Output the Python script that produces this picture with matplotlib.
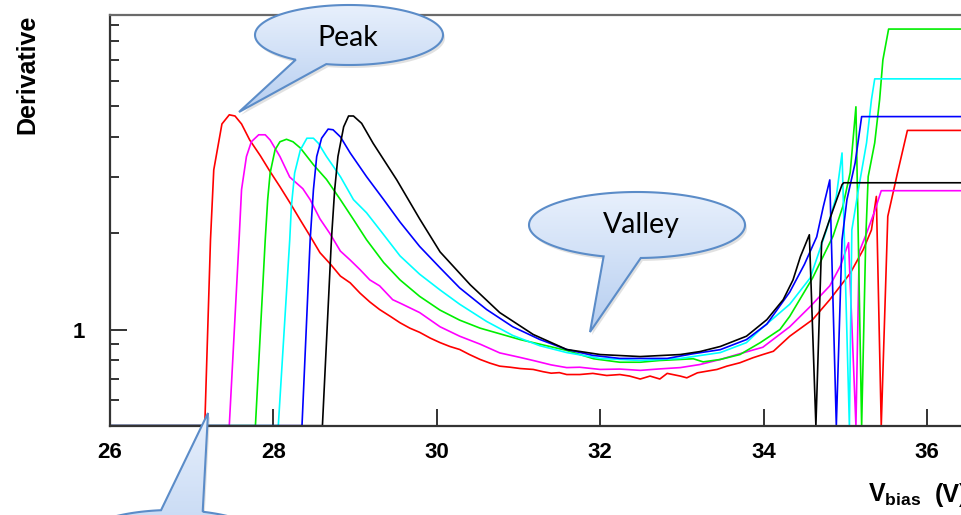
import numpy as np
import matplotlib
matplotlib.use('Agg')
import matplotlib.pyplot as plt
from matplotlib.patches import Polygon
from matplotlib.ticker import FixedLocator, NullFormatter
from matplotlib.colors import LinearSegmentedColormap

plt.rcParams['font.family'] = 'Liberation Sans'
plt.rcParams['mathtext.fontset'] = 'custom'
plt.rcParams['mathtext.bf'] = 'Liberation Sans:bold'
plt.rcParams['mathtext.rm'] = 'Liberation Sans'

# derivative curves, (V_bias, derivative); 0 = empty bin
red_pts = [(26.0, 0), (27.16, 0), (27.23, 1.91), (27.27, 3.16), (27.37, 4.4), (27.46, 4.70), (27.53, 4.66),
           (27.61, 4.4), (27.71, 3.92), (27.84, 3.5), (27.96, 3.12), (28.08, 2.8), (28.20, 2.5), (28.33, 2.2),
           (28.45, 1.96), (28.57, 1.74), (28.70, 1.60), (28.82, 1.47), (28.94, 1.40), (29.06, 1.30),
           (29.18, 1.22), (29.30, 1.155), (29.43, 1.10), (29.55, 1.05), (29.67, 1.01), (29.79, 0.98),
           (29.92, 0.94), (30.04, 0.91), (30.16, 0.885), (30.28, 0.866), (30.40, 0.835), (30.53, 0.806),
           (30.65, 0.785), (30.77, 0.768), (30.90, 0.762), (31.02, 0.755), (31.18, 0.75), (31.30, 0.738),
           (31.40, 0.73), (31.50, 0.733), (31.59, 0.723), (31.75, 0.723), (31.91, 0.729), (32.08, 0.718),
           (32.24, 0.723), (32.36, 0.715), (32.49, 0.70), (32.61, 0.715), (32.73, 0.70), (32.82, 0.729),
           (32.98, 0.715), (33.06, 0.706), (33.19, 0.732), (33.31, 0.741), (33.43, 0.75), (33.55, 0.768),
           (33.71, 0.787), (33.87, 0.816), (33.99, 0.835), (34.12, 0.855), (34.32, 0.953), (34.60, 1.074),
           (34.81, 1.24), (35.06, 1.50), (35.22, 1.78), (35.32, 2.05), (35.38, 2.61), (35.44, 0),
           (35.52, 2.26), (35.64, 3.10), (35.76, 4.20), (37.0, 4.20)]

magenta_pts = [(26.0, 0), (27.46, 0), (27.58, 1.91), (27.61, 2.74), (27.67, 3.48), (27.73, 3.87), (27.82, 4.07),
               (27.90, 4.07), (27.96, 3.92), (28.08, 3.48), (28.20, 3.0), (28.36, 2.76), (28.45, 2.55),
               (28.57, 2.22), (28.69, 2.0), (28.82, 1.76), (28.94, 1.65), (29.06, 1.54), (29.18, 1.43),
               (29.30, 1.37), (29.46, 1.24), (29.55, 1.21), (29.79, 1.13), (30.04, 1.02), (30.28, 0.953),
               (30.53, 0.90), (30.77, 0.845), (31.0, 0.82), (31.18, 0.80), (31.40, 0.775), (31.59, 0.76),
               (31.75, 0.762), (32.0, 0.75), (32.24, 0.752), (32.49, 0.745), (32.73, 0.753), (32.98, 0.76),
               (33.22, 0.777), (33.47, 0.806), (33.71, 0.84), (33.99, 0.88), (34.32, 1.02), (34.57, 1.18),
               (34.81, 1.37), (34.94, 1.58), (35.04, 1.87), (35.13, 0), (35.17, 1.75), (35.26, 2.0),
               (35.36, 2.35), (35.44, 2.72), (37.0, 2.72)]

green_pts = [(26.0, 0), (27.78, 0), (27.90, 1.91), (27.93, 2.55), (27.96, 3.09), (28.02, 3.65), (28.08, 3.87),
             (28.16, 3.94), (28.24, 3.87), (28.33, 3.70), (28.49, 3.28), (28.65, 2.95), (28.82, 2.55),
             (28.98, 2.21), (29.14, 1.91), (29.35, 1.62), (29.55, 1.43), (29.79, 1.27), (30.04, 1.15),
             (30.28, 1.07), (30.53, 1.01), (30.77, 0.97), (31.02, 0.93), (31.26, 0.90), (31.59, 0.86),
             (31.92, 0.81), (32.24, 0.79), (32.49, 0.79), (32.73, 0.80), (32.98, 0.806), (33.14, 0.81),
             (33.26, 0.792), (33.47, 0.806), (33.71, 0.835), (33.96, 0.91), (34.20, 1.0), (34.32, 1.10),
             (34.60, 1.45), (34.85, 1.96), (34.97, 2.43), (35.06, 3.10), (35.13, 4.98), (35.20, 0),
             (35.25, 1.91), (35.28, 3.01), (35.36, 3.84), (35.42, 5.24), (35.46, 6.98), (35.53, 8.72),
             (37.0, 8.72)]

cyan_pts = [(26.0, 0), (28.06, 0), (28.20, 1.91), (28.22, 2.43), (28.26, 3.09), (28.33, 3.65), (28.41, 3.97),
            (28.49, 3.97), (28.55, 3.83), (28.65, 3.48), (28.82, 3.01), (28.98, 2.55), (29.14, 2.32),
            (29.35, 1.98), (29.55, 1.70), (29.79, 1.49), (30.04, 1.33), (30.28, 1.20), (30.61, 1.06),
            (30.93, 0.958), (31.26, 0.89), (31.59, 0.847), (32.0, 0.812), (32.49, 0.80), (32.98, 0.812),
            (33.47, 0.847), (33.79, 0.91), (33.96, 1.0), (34.32, 1.2), (34.57, 1.45), (34.77, 2.05),
            (34.89, 2.61), (34.96, 3.57), (35.05, 0), (35.08, 2.05), (35.16, 2.74), (35.26, 3.84),
            (35.32, 5.24), (35.36, 6.09), (37.0, 6.09)]

blue_pts = [(26.0, 0), (28.35, 0), (28.45, 1.91), (28.49, 2.74), (28.53, 3.48), (28.59, 3.97), (28.67, 4.24),
            (28.73, 4.22), (28.82, 4.01), (28.94, 3.57), (29.14, 3.01), (29.35, 2.55), (29.55, 2.17),
            (29.79, 1.82), (30.04, 1.56), (30.28, 1.35), (30.61, 1.155), (30.93, 1.02), (31.26, 0.931),
            (31.59, 0.866), (31.91, 0.83), (32.24, 0.812), (32.82, 0.812), (33.14, 0.84), (33.47, 0.865),
            (33.79, 0.93), (34.04, 1.04), (34.32, 1.31), (34.50, 1.60), (34.65, 1.95), (34.73, 2.42),
            (34.81, 2.94), (34.89, 0), (34.96, 1.91), (35.02, 2.55), (35.12, 3.32), (35.16, 3.92),
            (35.20, 4.64), (37.0, 4.64)]

black_pts = [(26.0, 0), (28.60, 0), (28.71, 1.91), (28.75, 2.74), (28.79, 3.48), (28.86, 4.31), (28.92, 4.66),
             (28.98, 4.66), (29.08, 4.42), (29.22, 3.83), (29.39, 3.28), (29.51, 2.94), (29.79, 2.22),
             (30.04, 1.75), (30.41, 1.38), (30.77, 1.13), (31.18, 0.965), (31.59, 0.866), (32.00, 0.835),
             (32.49, 0.823), (32.98, 0.835), (33.22, 0.853), (33.47, 0.885), (33.79, 0.953), (34.04, 1.074),
             (34.24, 1.24), (34.36, 1.43), (34.45, 1.69), (34.56, 1.98), (34.64, 0), (34.71, 1.87),
             (34.85, 2.37), (34.96, 2.84), (34.98, 2.88), (37.0, 2.88)]

curves = [(red_pts, '#ff0000'), (magenta_pts, '#ff00ff'), (green_pts, '#00ee00'),
          (cyan_pts, '#00ffff'), (blue_pts, '#0000ff'), (black_pts, '#000000')]

x_ticks = [26, 28, 30, 32, 34, 36]
y_minor = [0.6, 0.7, 0.8, 0.9, 2, 3, 4, 5, 6, 7, 8, 9]
YMIN, YMAX = 0.5, 9.65

W, H = 961, 515
fig = plt.figure(figsize=(W / 100, H / 100), dpi=100)
ax = fig.add_axes([110 / W, 1 - 425.7 / H, 898.7 / W, 410.7 / H])

for pts, col in curves:
    vb, dv = np.array(pts).T
    # empty bins sit on the frame bottom
    ax.plot(vb, np.clip(dv, YMIN, None), color=col, lw=1.2, zorder=2)

ax.set_yscale('log')
ax.set_xlim(26, 37)
ax.set_ylim(YMIN, YMAX)
ax.set_xticks(x_ticks)
ax.set_xticklabels([str(t) for t in x_ticks], fontsize=16, fontweight='bold')
ax.set_yticks([1])
ax.set_yticklabels(['1'], fontsize=16, fontweight='bold')
ax.yaxis.set_minor_locator(FixedLocator(y_minor))
ax.yaxis.set_minor_formatter(NullFormatter())
ax.tick_params(which='major', direction='in', length=12.5, width=1.4, color='#333333')
ax.tick_params(which='minor', direction='in', length=6.5, width=1.4, color='#333333')
ax.tick_params(axis='x', pad=11.5)
ax.tick_params(axis='y', pad=18)
ax.spines['right'].set_visible(False)
for s in ['left', 'bottom']:
    ax.spines[s].set_color('#333333')
    ax.spines[s].set_linewidth(1.6)
ax.spines['top'].set_color('#6a6a6a')
ax.spines['top'].set_linewidth(1.6)

fig.text(27 / W, 1 - 15 / H, 'Derivative', rotation=90, ha='center', va='top',
         fontsize=18, fontweight='bold')
fig.text(868 / W, 1 - 501.7 / H, r'$\mathbf{V_{bias}}$', ha='left', va='baseline',
         fontsize=18, fontweight='bold')
fig.text(935 / W, 1 - 501.7 / H, '(V)', ha='left', va='baseline',
         fontsize=18, fontweight='bold')

# callout bubbles on a pixel-space overlay
ov = fig.add_axes([0, 0, 1, 1], zorder=10)
ov.axis('off')
ov.patch.set_alpha(0)
ov.set_autoscale_on(False)
ov.set_xlim(0, W)
ov.set_ylim(H, 0)

bubble_cmap = LinearSegmentedColormap.from_list('bub', ['#e8f0fc', '#b6cef0'])
grad = np.linspace(0, 1, 256).reshape(-1, 1)


def bubble(cx, cy, a, b, t_from, t_to, tip, label=None, tx=None, ty=None):
    t = np.radians(np.linspace(t_from, t_to, 240))
    bx = np.r_[cx + a * np.cos(t), tip[0]]
    by = np.r_[cy + b * np.sin(t), tip[1]]
    pts = np.column_stack([bx, by])
    ov.add_patch(Polygon(pts + [2, 3], closed=True, fc='#7a7a7a', ec='none', alpha=0.22, zorder=1))
    body = Polygon(pts, closed=True, fc='none', ec='#5b8cc8', lw=1.5, zorder=3)
    ov.add_patch(body)
    img = ov.imshow(grad, cmap=bubble_cmap, aspect='auto', interpolation='bilinear', origin='upper',
                    extent=[bx.min(), bx.max(), by.max(), by.min()], zorder=2)
    img.set_clip_path(body)
    if label:
        ov.text(tx, ty, label, fontsize=20.5, family='Lato', ha='center', va='center', zorder=4)


bubble(349, 35, 94, 30, 124.5, 464, (239, 112), 'Peak', 348, 38)
bubble(637, 225, 108, 33, 108, 448, (590, 332), 'Valley', 641, 225)
bubble(172, 550, 105, 40, 287, 624, (208, 413))

ov.set_xlim(0, W)
ov.set_ylim(H, 0)

fig.savefig('out.png', dpi=100)
